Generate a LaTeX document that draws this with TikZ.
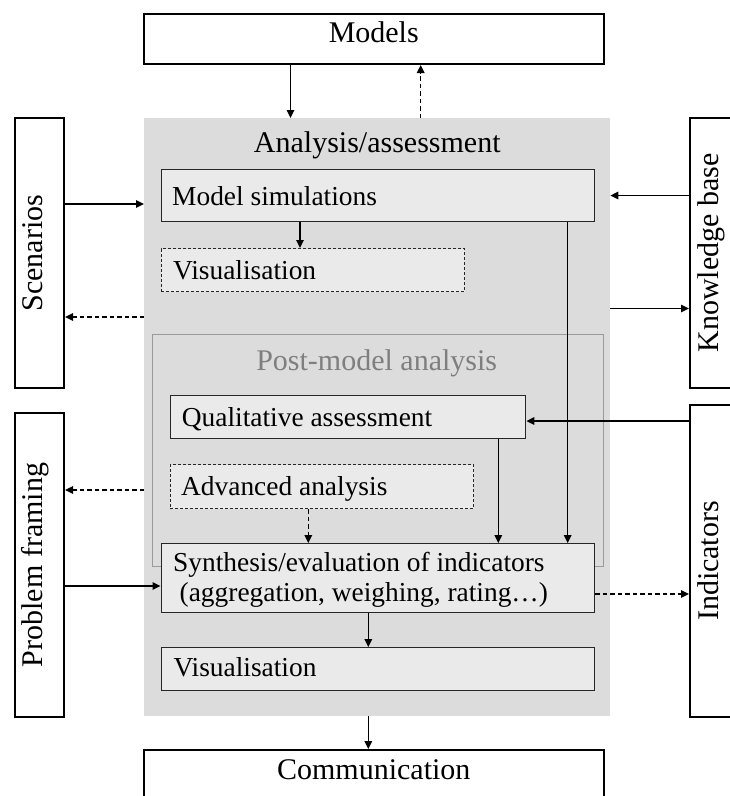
\documentclass[tikz,border=0pt]{standalone}
\usepackage{fontspec}
\setmainfont{Liberation Serif}
\usetikzlibrary{arrows.meta}
\definecolor{outerfill}{HTML}{DCDCDC}
\definecolor{innerfill}{HTML}{EAEAEA}
\definecolor{pmline}{HTML}{9A9A9A}
\definecolor{pmtext}{HTML}{7F7F7F}
\begin{document}
\begin{tikzpicture}[x=1pt,y=-1pt,
  outerbox/.style={draw=black, line width=2pt, fill=white, inner sep=0pt, anchor=north west,
    font=\fontsize{30}{36}\selectfont, text height=0.662em, text depth=0pt},
  innerbox/.style={draw=black!85, line width=1.4pt, fill=innerfill, inner sep=0pt, anchor=north west},
  dbox/.style={innerbox, line width=1.2pt, dash pattern=on 3pt off 2pt},
  txt/.style={anchor=base west, inner sep=0pt, font=\fontsize{27.4}{30}\selectfont},
  title/.style={anchor=base, inner sep=0pt, font=\fontsize{30}{36}\selectfont},
  rot/.style={rotate=90, inner sep=0pt, font=\fontsize{30}{36}\selectfont, text height=0.662em, text depth=0pt},
  arr/.style={line width=1.5pt, -{Triangle[length=8pt,width=7.5pt]}},
  darr/.style={arr, dash pattern=on 4.5pt off 3pt}]
\useasboundingbox (0,0) rectangle (729,796);

% main grey area
\node[fill=outerfill, inner sep=0pt, anchor=north west, minimum width=466, minimum height=598] (ana) at (144,118) {};
\node[title] (anat) at (377.3,152.7) {Analysis/assessment};

% post-model area
\node[fill=outerfill, draw=pmline, line width=1.3pt, inner sep=0pt, anchor=north west, minimum width=451, minimum height=232] (pm) at (151.7,334) {};
\node[title, text=pmtext] (pmt) at (376.7,370) {Post-model analysis};

% outer boxes
\node[outerbox, minimum width=459.5, minimum height=50] (models) at (143,13) {Models};
\node[outerbox, minimum width=459.5, minimum height=52] (comm) at (143,749) {Communication};
\node[outerbox, minimum width=49.5, minimum height=270] (scen) at (13.5,117) {};
\node[rot] (scent) at (scen.center) {Scenarios};
\node[outerbox, minimum width=49.5, minimum height=304] (pf) at (13.5,412) {};
\node[rot] (pft) at (pf.center) {Problem framing};
\node[outerbox, minimum width=49.5, minimum height=270] (kb) at (689,117) {};
\node[rot] (kbt) at (kb.center) {Knowledge base};
\node[outerbox, minimum width=49.5, minimum height=312] (ind) at (689,404) {};
\node[rot] (indt) at (ind.center) {Indicators};

% inner boxes
\node[innerbox, minimum width=433.5, minimum height=52] (ms) at (160.5,169) {};
\node[txt] (mst) at (172,205) {Model simulations};
\node[dbox, minimum width=303.5, minimum height=43] (vis1) at (160.5,248) {};
\node[txt] (vis1t) at (173,279) {Visualisation};
\node[innerbox, minimum width=355.5, minimum height=43] (qual) at (169.5,395) {};
\node[txt] (qualt) at (181.7,426.7) {Qualitative assessment};
\node[dbox, minimum width=303.5, minimum height=44] (adv) at (169.5,464) {};
\node[txt] (advt) at (181,495) {Advanced analysis};
\node[innerbox, minimum width=433.5, minimum height=69] (synth) at (160.5,543) {};
\node[txt] (syn1) at (173,571.7) {Synthesis/evaluation of indicators};
\node[txt] (syn2) at (179.5,601) {(aggregation, weighing, rating…)};
\node[innerbox, minimum width=433.5, minimum height=43] (vis2) at (160.5,647) {};
\node[txt] (vis2t) at (173.3,676.7) {Visualisation};

% helper coordinates
\coordinate (xa) at (290.5,0);
\coordinate (xb) at (420.7,0);
\coordinate (xc) at (300,0);
\coordinate (xd) at (567.7,0);
\coordinate (xe) at (498.3,0);
\coordinate (xf) at (308.3,0);
\coordinate (xg) at (368.3,0);
\coordinate (ya) at (0,204);
\coordinate (yb) at (0,317);
\coordinate (yc) at (0,195.5);
\coordinate (yd) at (0,308.5);
\coordinate (ye) at (0,421);
\coordinate (yf) at (0,490);
\coordinate (yg) at (0,586);
\coordinate (yh) at (0,594);

% connectors
\draw[arr] (models.south -| xa) -- (ana.north -| xa);
\draw[darr] (ana.north -| xb) -- (models.south -| xb);
\draw[arr] (scen.east |- ya) -- (ana.west |- ya);
\draw[darr] (ana.west |- yb) -- (scen.east |- yb);
\draw[arr] (kb.west |- yc) -- (ana.east |- yc);
\draw[arr] (ana.east |- yd) -- (kb.west |- yd);
\draw[arr] (ms.south -| xc) -- (vis1.north -| xc);
\draw[arr] (ms.south -| xd) -- (synth.north -| xd);
\draw[arr] (ind.west |- ye) -- (qual.east |- ye);
\draw[arr] (qual.south -| xe) -- (synth.north -| xe);
\draw[darr] (adv.south -| xf) -- (synth.north -| xf);
\draw[darr] (ana.west |- yf) -- (pf.east |- yf);
\draw[arr] (pf.east |- yg) -- (synth.west |- yg);
\draw[darr] (synth.east |- yh) -- (ind.west |- yh);
\draw[arr] (synth.south -| xg) -- (vis2.north -| xg);
\draw[arr] (ana.south -| xg) -- (comm.north -| xg);
\end{tikzpicture}
\end{document}
